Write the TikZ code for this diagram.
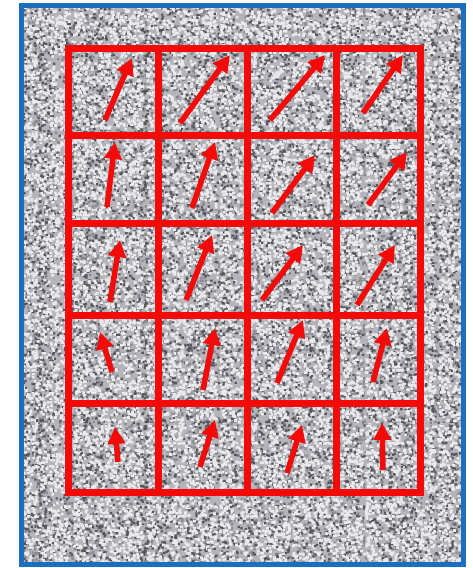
\documentclass[tikz,border=0pt]{standalone}
\usetikzlibrary{arrows.meta,patterns}
\definecolor{bggray}{RGB}{180,180,186}
\definecolor{darkspeck}{RGB}{85,85,92}
\definecolor{midspeck}{RGB}{135,135,142}
\definecolor{lightspeck}{RGB}{234,234,238}
\definecolor{frameblue}{RGB}{28,110,190}
\definecolor{gridred}{RGB}{245,10,10}
\pgfmathsetseed{5}
\pgfdeclarepatternformonly{specksA}{\pgfpointorigin}{\pgfpoint{61pt}{61pt}}{\pgfpoint{61pt}{61pt}}{%
  \foreach \i in {1,...,120}{%
    \pgfmathsetmacro\xx{58.5*rnd}\pgfmathsetmacro\yy{58.5*rnd}%
    \pgfpathrectangle{\pgfpoint{\xx pt}{\yy pt}}{\pgfpoint{2.4pt}{2.2pt}}%
    \pgfusepath{fill}%
  }%
}
\pgfdeclarepatternformonly{specksB}{\pgfpointorigin}{\pgfpoint{73pt}{73pt}}{\pgfpoint{73pt}{73pt}}{%
  \foreach \i in {1,...,280}{%
    \pgfmathsetmacro\xx{70*rnd}\pgfmathsetmacro\yy{70*rnd}%
    \pgfpathrectangle{\pgfpoint{\xx pt}{\yy pt}}{\pgfpoint{2.8pt}{2.6pt}}%
    \pgfusepath{fill}%
  }%
}
\pgfdeclarepatternformonly{specksC}{\pgfpointorigin}{\pgfpoint{53pt}{53pt}}{\pgfpoint{53pt}{53pt}}{%
  \foreach \i in {1,...,100}{%
    \pgfmathsetmacro\xx{50.5*rnd}\pgfmathsetmacro\yy{50.5*rnd}%
    \pgfpathrectangle{\pgfpoint{\xx pt}{\yy pt}}{\pgfpoint{2.2pt}{2.4pt}}%
    \pgfusepath{fill}%
  }%
}
\tikzset{
  gridline/.style={draw=gridred, line width=7pt},
  vecarrow/.style={draw=gridred, line width=5.5pt, -{Triangle[length=17pt,width=17pt]}},
  frameline/.style={draw=frameblue, line width=5pt}
}
\begin{document}
\begin{tikzpicture}[x=1pt,y=-1pt]
\useasboundingbox (0,0) rectangle (473,568);
\fill[white] (0,0) rectangle (473,568);
\fill[bggray] (20,4) rectangle (465,566);
\fill[pattern=specksC, pattern color=midspeck] (20,4) rectangle (465,566);
\fill[pattern=specksA, pattern color=darkspeck] (20,4) rectangle (465,566);
\fill[pattern=specksB, pattern color=lightspeck] (20,4) rectangle (465,566);
\pgfmathsetseed{12}
\fill[darkspeck] \foreach \i in {1,...,2200}{ ({20+442*rnd},{4+559*rnd}) rectangle ++(2.2,2.2) };
\fill[lightspeck] \foreach \i in {1,...,3300}{ ({20+442*rnd},{4+559*rnd}) rectangle ++(2.8,2.6) };
\draw[frameline] (21.5,5.5) rectangle (463.5,564.5);
% grid
\foreach \x in {68,158,247,336,420}{
  \draw[gridline] (\x,48) -- (\x,492);
}
\foreach \y in {48,135,223,315,403,492}{
  \draw[gridline] (64.5,\y) -- (423.5,\y);
}
% arrows row 1
\draw[vecarrow] (105,120) -- (132,58);
\draw[vecarrow] (180,123) -- (230,55);
\draw[vecarrow] (270,120) -- (325,55);
\draw[vecarrow] (363,113) -- (403,55);
% row 2
\draw[vecarrow] (107,207) -- (115,142);
\draw[vecarrow] (192,208) -- (215,142);
\draw[vecarrow] (272,213) -- (315,155);
\draw[vecarrow] (368,205) -- (407,152);
% row 3
\draw[vecarrow] (110,302) -- (120,240);
\draw[vecarrow] (186,300) -- (212,235);
\draw[vecarrow] (262,300) -- (303,245);
\draw[vecarrow] (357,305) -- (395,245);
% row 4
\draw[vecarrow] (112,372) -- (100,332);
\draw[vecarrow] (203,390) -- (215,328);
\draw[vecarrow] (277,383) -- (303,320);
\draw[vecarrow] (373,382) -- (387,328);
% row 5
\draw[vecarrow] (118,462) -- (115,427);
\draw[vecarrow] (200,467) -- (215,420);
\draw[vecarrow] (287,473) -- (302,425);
\draw[vecarrow] (383,470) -- (382,423);
\end{tikzpicture}
\end{document}
